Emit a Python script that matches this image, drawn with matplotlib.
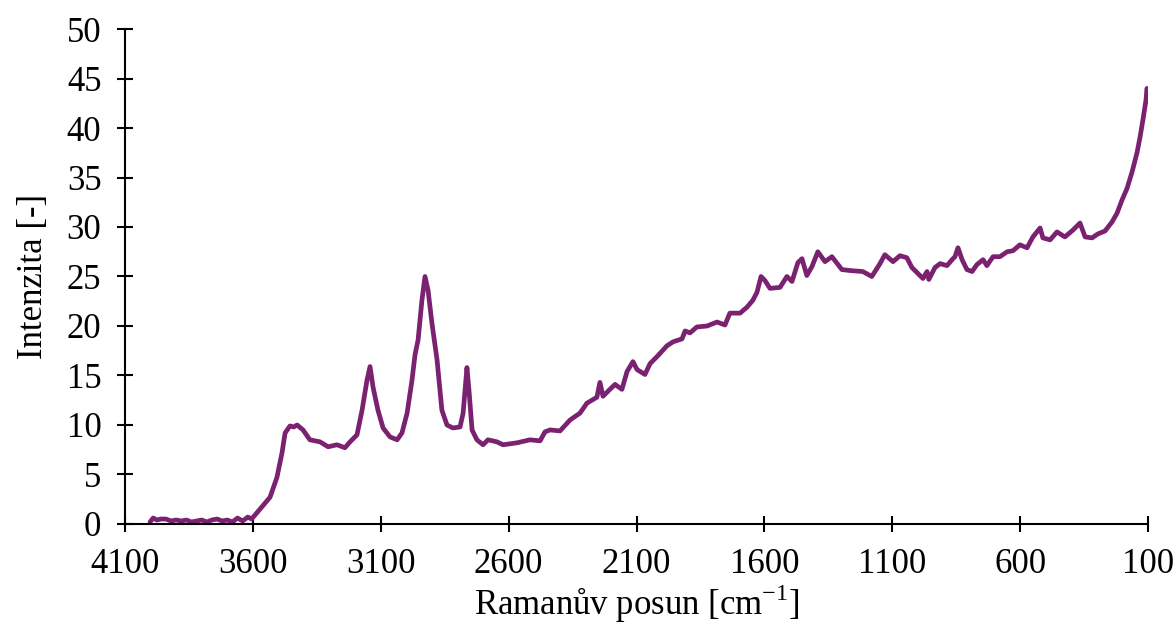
"""Raman spectrum — intensity vs. Raman shift."""

import matplotlib.pyplot as plt

plt.rcParams["font.family"] = ["Liberation Serif", "DejaVu Serif"]

# ── Data ──────────────────────────────────────────────────────────────────────
shift = [
    4002, 3990, 3975, 3960, 3940, 3920, 3900, 3880, 3860, 3840, 3820, 3800,
    3780, 3760, 3740, 3720, 3700, 3680, 3660, 3640, 3620, 3605, 3592,
    3560, 3533, 3506, 3486, 3474, 3455, 3440, 3427, 3404, 3377, 3338, 3306,
    3271, 3240, 3220, 3193, 3173, 3154, 3142, 3130, 3111, 3091, 3064, 3036,
    3017, 2997, 2978, 2966, 2954, 2939, 2927, 2915, 2900, 2880, 2861, 2841,
    2818, 2790, 2778, 2767, 2763, 2755, 2743, 2724, 2700, 2681, 2646, 2622,
    2567, 2517, 2477, 2458, 2438, 2399, 2360, 2321, 2294, 2255, 2243, 2231,
    2204, 2184, 2157, 2137, 2114, 2098, 2067, 2047, 2020, 1981, 1957, 1922,
    1910, 1891, 1864, 1824, 1785, 1754, 1735, 1695, 1668, 1645, 1629, 1613,
    1598, 1578, 1539, 1512, 1492, 1469, 1453, 1434, 1414, 1391, 1363, 1336,
    1297, 1265, 1215, 1180, 1148, 1129, 1097, 1070, 1043, 1023, 992, 980,
    964, 957, 933, 913, 886, 866, 855, 843, 827, 808, 788, 769, 745, 730,
    706, 679, 651, 628, 601, 573, 550, 522, 511, 483, 456, 425, 393, 366,
    346, 319, 296, 268, 241, 221, 202, 182, 163, 143, 131, 120, 108, 104, 100,
]
intensity = [
    0.2, 0.6, 0.4, 0.5, 0.5, 0.3, 0.4, 0.3, 0.4, 0.2, 0.3, 0.4,
    0.2, 0.4, 0.5, 0.3, 0.4, 0.2, 0.6, 0.3, 0.7, 0.5, 0.9,
    1.9, 2.7, 4.7, 7.2, 9.2, 9.9, 9.8, 10.0, 9.5, 8.5, 8.3, 7.8,
    8.0, 7.7, 8.3, 9.0, 11.5, 14.5, 15.9, 13.8, 11.5, 9.7, 8.8, 8.5,
    9.2, 11.2, 14.5, 17.1, 18.6, 22.6, 25.0, 23.6, 20.3, 16.6, 11.5, 10.0,
    9.7, 9.8, 11.2, 14.5, 15.8, 13.5, 9.5, 8.5, 8.0, 8.5, 8.3, 8.0,
    8.2, 8.5, 8.4, 9.3, 9.5, 9.4, 10.5, 11.2, 12.2, 12.8, 14.3, 12.9,
    13.6, 14.1, 13.6, 15.4, 16.4, 15.6, 15.1, 16.2, 16.9, 18.0, 18.4, 18.7,
    19.5, 19.3, 19.9, 20.0, 20.4, 20.1, 21.3, 21.3, 21.9, 22.6, 23.4, 25.0,
    24.6, 23.8, 23.9, 25.0, 24.5, 26.4, 26.8, 25.1, 26.0, 27.5, 26.5, 27.0,
    25.7, 25.6, 25.5, 25.0, 26.3, 27.2, 26.5, 27.1, 26.9, 25.9, 25.1, 24.8,
    25.5, 24.7, 25.9, 26.3, 26.1, 26.7, 27.0, 27.9, 26.7, 25.7, 25.5, 26.2, 26.7, 26.1,
    27.0, 27.0, 27.5, 27.6, 28.2, 27.9, 29.0, 29.9, 28.9, 28.7, 29.5, 29.0, 29.7, 30.4,
    29.0, 28.9, 29.3, 29.6, 30.5, 31.4, 32.7, 33.9, 35.5, 37.5, 39.1, 40.8, 42.8, 44.0, 43.5,
]
x_ticks = [4100, 3600, 3100, 2600, 2100, 1600, 1100, 600, 100]
y_ticks = [0, 5, 10, 15, 20, 25, 30, 35, 40, 45, 50]

# ── Plot ──────────────────────────────────────────────────────────────────────
fig = plt.figure(figsize=(11.76, 6.24), dpi=100)
ax = fig.add_axes([0.1063, 0.1603, 0.8699, 0.7932])

ax.plot(shift, intensity, color="#7a2170", linewidth=3.4,
        solid_joinstyle="round", solid_capstyle="round")

ax.set_xlim(4100, 100)
ax.set_ylim(0, 50)
ax.set_xticks(x_ticks)
ax.set_yticks(y_ticks)

for side in ["top", "right"]:
    ax.spines[side].set_visible(False)
for side in ["left", "bottom"]:
    ax.spines[side].set_linewidth(1.5)

ax.tick_params(direction="inout", length=12, width=1.5, pad=11, labelsize=25)

ax.set_xlabel(r"Ramanův posun [cm$^{\mathregular{-1}}$]", fontsize=25, labelpad=1)
ax.set_ylabel("Intenzita [-]", fontsize=25, labelpad=12)

fig.savefig("out.png", dpi=100)
plt.close(fig)
